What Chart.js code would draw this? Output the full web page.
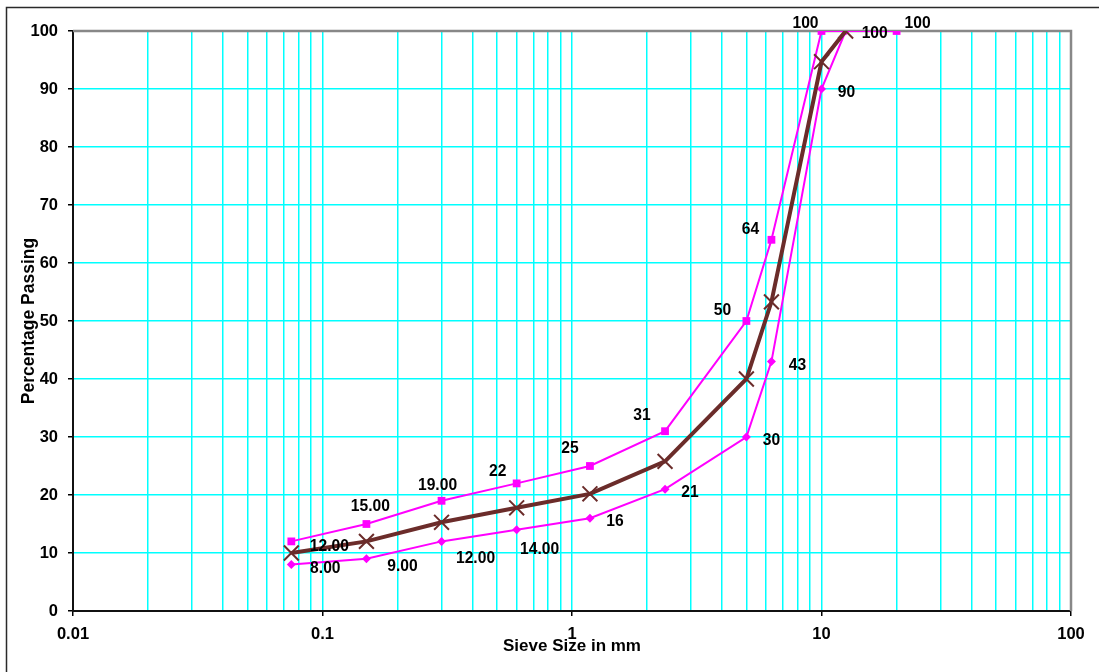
<!DOCTYPE html>
<html>
<head>
<meta charset="utf-8">
<script src="https://cdn.jsdelivr.net/npm/chart.js@4.4.1/dist/chart.umd.min.js"></script>
<style>
  html, body { margin: 0; padding: 0; background: #fff; }
  #wrap { width: 1099px; height: 672px; position: relative; }
</style>
</head>
<body>
<div id="wrap"><canvas id="c" width="1099" height="672"></canvas></div>
<script>
// ---- Data ----
const upperSieve   = [0.075, 0.15, 0.3, 0.6, 1.18, 2.36, 5, 6.3, 10, 20];
const upperPassing = [12, 15, 19, 22, 25, 31, 50, 64, 100, 100];
const upperLabels  = ["12.00", "15.00", "19.00", "22", "25", "31", "50", "64", "100", "100"];

const lowerSieve   = [0.075, 0.15, 0.3, 0.6, 1.18, 2.36, 5, 6.3, 10, 12.5];
const lowerPassing = [8, 9, 12, 14, 16, 21, 30, 43, 90, 100];
const lowerLabels  = ["8.00", "9.00", "12.00", "14.00", "16", "21", "30", "43", "90", "100"];

const actualSieve   = [0.075, 0.15, 0.3, 0.6, 1.18, 2.36, 5, 6.3, 10, 12.5];
const actualPassing = [10, 12, 15.3, 17.8, 20.2, 25.8, 40, 53.3, 94.7, 100];

const xTickLabels = ["0.01", "0.1", "1", "10", "100"];
const yTicks = [0, 10, 20, 30, 40, 50, 60, 70, 80, 90, 100];

// label offsets (pixels, relative to the point) – layout only
const upperLabelOffsets = [[38,3],[4,-19],[-4,-17],[-19,-14],[-20,-19],[-23,-17],[-24,-12],[-21,-12],[-16,-9],[21,-9]];
const lowerLabelOffsets = [[34,2],[36,6],[34,15],[23,18],[25,2],[25,2],[25,2],[26,2],[25,2],[29,1]];

const MAGENTA = '#ff00ff';
const BROWN = '#6b2c2a';
const GRID = '#00ffff';
const FONT = "'Liberation Sans', Arial, sans-serif";

const toPts = (xs, ys) => xs.map((x, i) => ({x: x, y: ys[i]}));

function isDecade(v) {
  const l = Math.log10(v);
  return Math.abs(l - Math.round(l)) < 1e-9;
}

const bgPlugin = {
  id: 'bg',
  beforeDraw(chart) {
    const ctx = chart.ctx;
    ctx.save();
    ctx.fillStyle = '#fff';
    ctx.fillRect(0, 0, chart.width, chart.height);
    ctx.strokeStyle = '#2a2a2a';
    ctx.lineWidth = 1.5;
    ctx.beginPath();
    ctx.moveTo(6.5, chart.height + 2);
    ctx.lineTo(6.5, 7.5);
    ctx.lineTo(chart.width + 2, 7.5);
    ctx.stroke();
    ctx.restore();
  },
  beforeDatasetsDraw(chart) {
    const {ctx, chartArea: a} = chart;
    ctx.save();
    ctx.strokeStyle = '#888888';
    ctx.lineWidth = 2.5;
    ctx.beginPath();
    ctx.moveTo(a.left, a.top);
    ctx.lineTo(a.right, a.top);
    ctx.lineTo(a.right, a.bottom);
    ctx.stroke();
    ctx.restore();
  }
};

const labelPlugin = {
  id: 'dlabels',
  afterDatasetsDraw(chart) {
    const ctx = chart.ctx;
    chart.data.datasets.forEach((ds, di) => {
      if (!ds.pointLabels) return;
      const meta = chart.getDatasetMeta(di);
      meta.data.forEach((el, i) => {
        const off = ds.labelOffsets[i] || [0, 0];
        ctx.save();
        ctx.translate(el.x + off[0], el.y + off[1] + 1.5);
        ctx.scale(0.92, 1);
        ctx.font = "bold 17px " + FONT;
        ctx.fillStyle = '#000';
        ctx.textAlign = 'center';
        ctx.textBaseline = 'middle';
        ctx.fillText(ds.pointLabels[i], 0, 0);
        ctx.restore();
      });
    });
  }
};

new Chart(document.getElementById('c'), {
  type: 'scatter',
  data: {
    datasets: [
      {
        label: 'Sample',
        data: toPts(actualSieve, actualPassing),
        showLine: true,
        borderColor: BROWN,
        borderWidth: 4,
        pointStyle: 'crossRot',
        pointRadius: 10.5,
        pointBorderWidth: 2,
        pointBorderColor: BROWN,
        pointBackgroundColor: BROWN,
        order: 0
      },
      {
        label: 'Upper limit',
        data: toPts(upperSieve, upperPassing),
        showLine: true,
        borderColor: MAGENTA,
        borderWidth: 2,
        pointStyle: 'rect',
        pointRadius: 5.5,
        pointBorderWidth: 0,
        pointBackgroundColor: MAGENTA,
        pointLabels: upperLabels,
        labelOffsets: upperLabelOffsets,
        order: 1
      },
      {
        label: 'Lower limit',
        data: toPts(lowerSieve, lowerPassing),
        showLine: true,
        borderColor: MAGENTA,
        borderWidth: 2,
        pointStyle: 'rectRot',
        pointRadius: 4.5,
        pointBorderWidth: 0,
        pointBackgroundColor: MAGENTA,
        pointLabels: lowerLabels,
        labelOffsets: lowerLabelOffsets,
        order: 2
      }
    ]
  },
  options: {
    responsive: false,
    animation: false,
    events: [],
    layout: { padding: { top: 31, right: 28, left: 0, bottom: 0 } },
    plugins: { legend: { display: false }, tooltip: { enabled: false } },
    scales: {
      x: {
        type: 'logarithmic',
        min: 0.01,
        max: 100,
        afterFit(scale) { scale.height = 61; },
        afterBuildTicks(scale) {
          const t = [];
          for (let e = -2; e <= 1; e++) {
            for (let s = 1; s <= 9; s++) {
              t.push({ value: Number((s * Math.pow(10, e)).toPrecision(3)) });
            }
          }
          t.push({ value: 100 });
          scale.ticks = t;
        },
        ticks: {
          autoSkip: false,
          maxRotation: 0,
          minRotation: 0,
          padding: 9,
          color: '#000',
          font: { family: FONT, size: 16.5, weight: 'bold' },
          callback(value) {
            if (!isDecade(value)) return '';
            const idx = Math.round(Math.log10(value)) + 2;
            return xTickLabels[idx];
          }
        },
        grid: {
          color: GRID,
          lineWidth: 1.5,
          drawTicks: true,
          tickLength: 5,
          tickWidth: 1.5,
          tickColor: (ctx) => (ctx.tick && isDecade(ctx.tick.value)) ? '#000' : 'rgba(0,0,0,0)'
        },
        border: { display: true, color: '#111', width: 2 },
        title: {
          display: true,
          text: 'Sieve Size in mm',
          color: '#000',
          font: { family: FONT, size: 17, weight: 'bold' },
          padding: { top: 0, bottom: 15 }
        }
      },
      y: {
        min: 0,
        max: 100,
        afterFit(scale) { scale.width = 73; },
        afterBuildTicks(scale) {
          scale.ticks = yTicks.map(v => ({ value: v }));
        },
        ticks: {
          padding: 10,
          color: '#000',
          font: { family: FONT, size: 16.5, weight: 'bold' }
        },
        grid: {
          color: GRID,
          lineWidth: 1.5,
          drawTicks: true,
          tickLength: 5,
          tickWidth: 1.5,
          tickColor: '#000'
        },
        border: { display: true, color: '#111', width: 2 },
        title: {
          display: true,
          text: 'Percentage Passing',
          color: '#000',
          font: { family: FONT, size: 17.5, weight: 'bold' },
          padding: { top: 19, bottom: 0 }
        }
      }
    }
  },
  plugins: [bgPlugin, labelPlugin]
});
</script>
</body>
</html>
